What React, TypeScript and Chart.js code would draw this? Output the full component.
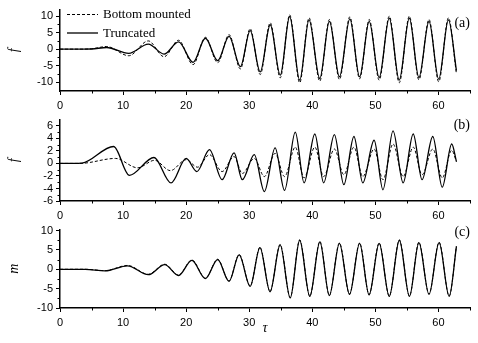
import React, { useEffect, useRef } from "react";
import { Chart, registerables } from "chart.js";
Chart.register(...registerables);

// ---------- data ----------
const seriesNames = ["Bottom mounted", "Truncated"];

// panel (a): f
const tauA = [0, 3, 5, 7.4, 10.9, 14.0, 16.5, 18.8, 21.1, 23.05, 25.0, 26.8, 28.6, 30.15, 31.74, 33.33, 34.92, 36.41, 38.0, 39.48, 41.18, 42.71, 44.3, 45.95, 47.5, 49.02, 50.6, 52.2, 53.78, 55.38, 56.9, 58.5, 60.04, 61.58, 62.85];
const bottomA = [0, 0, 0.1, 0.8, -2.0, 2.5, -2.3, 2.7, -4.7, 3.6, -4.1, 4.4, -6.0, 6.2, -7.7, 8.0, -8.7, 10.4, -10.2, 9.5, -9.7, 9.0, -9.2, 9.8, -9.0, 9.0, -9.4, 10.0, -10.2, 10.0, -9.3, 9.0, -9.9, 9.5, -7.5];
const truncA = [0, 0, 0.05, 0.5, -1.3, 1.5, -1.5, 2.2, -4.0, 3.3, -3.5, 3.9, -5.3, 5.6, -6.9, 7.4, -7.9, 9.9, -9.4, 8.9, -8.9, 8.4, -8.4, 9.2, -8.4, 8.4, -8.6, 9.4, -9.4, 9.4, -8.6, 8.4, -9.1, 8.9, -6.5];

// panel (b): f
const tauBb = [0, 2, 3.5, 8.8, 12.3, 15.0, 17.5, 20.0, 21.8, 23.7, 25.7, 27.6, 28.9, 30.8, 32.4, 34.1, 35.6, 37.3, 38.7, 40.4, 41.8, 43.5, 45.0, 46.6, 48.0, 49.8, 51.2, 52.8, 54.4, 56.0, 57.4, 59.1, 60.6, 62.1, 62.85];
const bottomB = [0, 0, 0.02, 0.8, -0.7, 0.5, -1.15, 0.6, -0.6, 1.4, -1.3, 1.1, -1.6, 0.8, -2.1, 1.6, -2.1, 2.6, -2.3, 2.6, -2.1, 2.3, -1.8, 2.6, -2.1, 2.3, -2.6, 3.1, -2.1, 2.6, -1.8, 2.3, -2.3, 2.1, 0.3];
const tauBt = [0, 2, 3.5, 8.5, 11.0, 14.9, 17.6, 20.0, 21.7, 23.7, 25.7, 27.6, 28.9, 30.8, 32.4, 34.1, 35.6, 37.3, 38.7, 40.4, 41.8, 43.5, 45.0, 46.6, 48.0, 49.8, 51.2, 52.8, 54.4, 56.0, 57.4, 59.1, 60.6, 62.1, 62.85];
const truncB = [0, 0, 0.05, 2.7, -1.9, 0.95, -3.1, 0.8, -1.3, 2.2, -2.6, 1.7, -2.6, 1.4, -4.5, 2.5, -4.3, 5.0, -3.1, 4.7, -3.1, 4.6, -3.4, 4.3, -3.1, 3.7, -4.2, 5.2, -3.1, 4.7, -2.6, 4.3, -3.8, 3.1, 0.3];

// panel (c): m
const tauC = [0, 4, 7.15, 10.7, 14.0, 16.6, 18.8, 20.9, 23.05, 25.0, 26.8, 28.4, 30.15, 31.7, 33.3, 34.9, 36.5, 38.0, 39.6, 41.2, 42.7, 44.3, 45.9, 47.5, 49.0, 50.6, 52.2, 53.8, 55.4, 56.9, 58.5, 60.1, 61.7, 62.85];
const bottomC = [0, 0, -0.35, 1.0, -1.3, 1.3, -1.5, 2.4, -2.3, 2.6, -3.0, 3.8, -4.3, 5.7, -5.7, 6.4, -7.3, 7.6, -6.9, 7.2, -6.7, 6.8, -6.4, 6.8, -6.5, 6.8, -6.9, 7.6, -6.9, 7.0, -6.4, 7.0, -6.9, 6.0];
const truncC = [0, 0, -0.4, 0.9, -1.4, 1.2, -1.6, 2.3, -2.4, 2.5, -3.1, 3.7, -4.4, 5.6, -5.8, 6.3, -7.4, 7.5, -7.0, 7.1, -6.8, 6.7, -6.5, 6.7, -6.6, 6.7, -7.0, 7.5, -7.0, 6.9, -6.5, 6.9, -7.0, 5.9];

// axes
const xTicks = [0, 10, 20, 30, 40, 50, 60];
const xMinor = [5, 15, 25, 35, 45, 55, 65];
const yTicksA = [-10, -5, 0, 5, 10];
const yMinorA = [-7.5, -2.5, 2.5, 7.5];
const yTicksB = [-6, -4, -2, 0, 2, 4, 6];
const yMinorB = [-5, -3, -1, 1, 3, 5];
const yTicksC = [-10, -5, 0, 5, 10];
const yMinorC = [-7.5, -2.5, 2.5, 7.5];

const SERIF = "'Liberation Serif', 'Times New Roman', serif";
const SANS = "'Liberation Sans', Arial, sans-serif";

const pts = (xs: number[], ys: number[]) => xs.map((x, i) => ({ x, y: ys[i] }));

const overlayPlugin = {
  id: "overlay",
  afterDraw(chart: any, _args: any, opts: any) {
    const ctx = chart.ctx;
    const xs = chart.scales.x;
    const ys = chart.scales.y;
    const area = chart.chartArea;
    ctx.save();
    ctx.strokeStyle = "#000";
    ctx.lineWidth = 1;
    // minor ticks
    (opts.xMinor || []).forEach((v: number) => {
      const px = Math.round(xs.getPixelForValue(v)) + 0.5;
      ctx.beginPath();
      ctx.moveTo(px, area.bottom);
      ctx.lineTo(px, area.bottom + 2.5);
      ctx.stroke();
    });
    (opts.yMinor || []).forEach((v: number) => {
      const py = Math.round(ys.getPixelForValue(v)) + 0.5;
      ctx.beginPath();
      ctx.moveTo(area.left, py);
      ctx.lineTo(area.left - 2.5, py);
      ctx.stroke();
    });
    // panel label
    if (opts.label) {
      ctx.fillStyle = "#000";
      ctx.font = `14px ${SERIF}`;
      ctx.textAlign = "right";
      ctx.textBaseline = "middle";
      ctx.fillText(opts.label, opts.labelX, opts.labelY);
    }
    // legend
    if (opts.legend) {
      chart.data.datasets.forEach((ds: any, i: number) => {
        const y = opts.legendY0 + i * opts.legendDy;
        ctx.strokeStyle = "#000";
        ctx.lineWidth = ds.borderWidth;
        ctx.setLineDash(ds.borderDash || []);
        ctx.beginPath();
        ctx.moveTo(opts.legendX0, y);
        ctx.lineTo(opts.legendX0 + 31, y);
        ctx.stroke();
        ctx.setLineDash([]);
        ctx.fillStyle = "#000";
        ctx.font = `13px ${SERIF}`;
        ctx.textAlign = "left";
        ctx.textBaseline = "middle";
        ctx.fillText(ds.label, opts.legendX0 + 36, y + 0.5);
      });
    }
    ctx.restore();
  },
};

type Spec = {
  bottom: { x: number; y: number }[];
  trunc: { x: number; y: number }[];
  yMin: number;
  yMax: number;
  yTicks: number[];
  yMinor: number[];
  yTitle: string;
  label: string;
  labelY: number;
  padTop: number;
  xHeight: number;
  xTitle: boolean;
  legend: boolean;
};

function makeChart(canvas: HTMLCanvasElement, s: Spec) {
  return new Chart(canvas, {
    type: "line",
    data: {
      datasets: [
        {
          label: seriesNames[0],
          data: s.bottom,
          borderColor: "#000",
          borderWidth: 1,
          borderDash: [3, 2],
          pointRadius: 0,
          cubicInterpolationMode: "monotone",
          fill: false,
          order: 2,
        },
        {
          label: seriesNames[1],
          data: s.trunc,
          borderColor: "#000",
          borderWidth: 1.3,
          pointRadius: 0,
          cubicInterpolationMode: "monotone",
          fill: false,
          order: 1,
        },
      ],
    },
    options: {
      responsive: false,
      animation: false,
      devicePixelRatio: 1,
      events: [],
      layout: { padding: { left: 0, right: 8, top: s.padTop, bottom: 0 } },
      plugins: {
        legend: { display: false },
        tooltip: { enabled: false },
        overlay: {
          xMinor,
          yMinor: s.yMinor,
          label: s.label,
          labelX: 470,
          labelY: s.labelY,
          legend: s.legend,
          legendX0: 67,
          legendY0: 14.5,
          legendDy: 18.5,
        },
      } as any,
      scales: {
        x: {
          type: "linear",
          min: 0,
          max: 65,
          afterBuildTicks: (sc: any) => {
            sc.ticks = xTicks.map((v) => ({ value: v }));
          },
          afterFit: (sc: any) => {
            sc.height = s.xHeight;
          },
          grid: { drawOnChartArea: false, drawTicks: true, tickLength: 4, tickColor: "#000", tickWidth: 1 },
          border: { display: true, color: "#000", width: 1.5 },
          ticks: { color: "#000", font: { family: SANS, size: 11 }, padding: 4, maxRotation: 0, autoSkip: false },
          title: s.xTitle
            ? { display: true, text: "τ", color: "#000", font: { family: SERIF, size: 14, style: "italic" }, padding: { top: 0, bottom: 6 } }
            : { display: false },
        },
        y: {
          type: "linear",
          min: s.yMin,
          max: s.yMax,
          afterBuildTicks: (sc: any) => {
            sc.ticks = s.yTicks.map((v) => ({ value: v }));
          },
          afterFit: (sc: any) => {
            sc.width = 60;
          },
          grid: { drawOnChartArea: false, drawTicks: true, tickLength: 4, tickColor: "#000", tickWidth: 1 },
          border: { display: true, color: "#000", width: 1.5 },
          ticks: { color: "#000", font: { family: SANS, size: 11 }, padding: 3, autoSkip: false },
          title: { display: true, text: s.yTitle, color: "#000", font: { family: SERIF, size: 14, style: "italic" }, padding: { top: 6, bottom: 0 } },
        },
      },
    } as any,
    plugins: [overlayPlugin],
  });
}

export default function App() {
  const refA = useRef<HTMLCanvasElement>(null);
  const refB = useRef<HTMLCanvasElement>(null);
  const refC = useRef<HTMLCanvasElement>(null);

  useEffect(() => {
    const charts = [
      makeChart(refA.current!, {
        bottom: pts(tauA, bottomA),
        trunc: pts(tauA, truncA),
        yMin: -12.7,
        yMax: 12,
        yTicks: yTicksA,
        yMinor: yMinorA,
        yTitle: "f",
        label: "(a)",
        labelY: 23,
        padTop: 8,
        xHeight: 19,
        xTitle: false,
        legend: true,
      }),
      makeChart(refB.current!, {
        bottom: pts(tauBb, bottomB),
        trunc: pts(tauBt, truncB),
        yMin: -6,
        yMax: 7,
        yTicks: yTicksB,
        yMinor: yMinorB,
        yTitle: "f",
        label: "(b)",
        labelY: 15,
        padTop: 6,
        xHeight: 19,
        xTitle: false,
        legend: false,
      }),
      makeChart(refC.current!, {
        bottom: pts(tauC, bottomC),
        trunc: pts(tauC, truncC),
        yMin: -10,
        yMax: 10.25,
        yTicks: yTicksC,
        yMinor: yMinorC,
        yTitle: "m",
        label: "(c)",
        labelY: 12,
        padTop: 4,
        xHeight: 35,
        xTitle: true,
        legend: false,
      }),
    ];
    return () => charts.forEach((c) => c.destroy());
  }, []);

  const cv = (top: number, h: number): React.CSSProperties => ({ position: "absolute", left: 0, top, width: 478, height: h, display: "block" });

  return (
    <div style={{ position: "fixed", left: 0, top: 0, width: 478, height: 343, background: "#fff", overflow: "hidden" }}>
      <canvas ref={refA} width={478} height={110} style={cv(0, 110)} />
      <canvas ref={refB} width={478} height={110} style={cv(110, 110)} />
      <canvas ref={refC} width={478} height={123} style={cv(220, 123)} />
    </div>
  );
}
